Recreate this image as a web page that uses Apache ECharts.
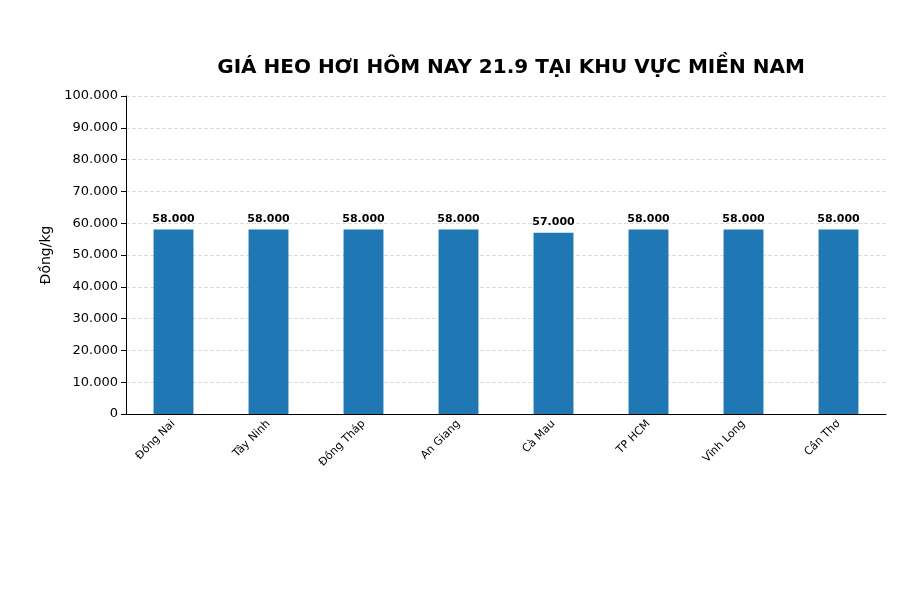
<!DOCTYPE html>
<html><head><meta charset="utf-8">
<script src="https://cdn.jsdelivr.net/npm/echarts@6/dist/echarts.min.js"></script>
<style>html,body{margin:0;padding:0;background:#fff}#c{width:900px;height:600px}</style>
</head><body><div id="c"></div>
<script>
const categories = ['Đồng Nai','Tây Ninh','Đồng Tháp','An Giang','Cà Mau','TP HCM','Vĩnh Long','Cần Thơ'];
const prices = [58000,58000,58000,58000,57000,58000,58000,58000];
const fmt = v => String(v).replace(/\B(?=(\d{3})+(?!\d))/g, '.');
const chart = echarts.init(document.getElementById('c'));
chart.setOption({
  animation:false,
  textStyle:{fontFamily:'DejaVu Sans'},
  title:{text:'GIÁ HEO HƠI HÔM NAY 21.9 TẠI KHU VỰC MIỀN NAM',left:506,top:53,textAlign:'center',
    textStyle:{fontSize:20,fontWeight:'bold',color:'#000',fontFamily:'DejaVu Sans'}},
  grid:{left:126,right:14,top:96,bottom:186},
  xAxis:{type:'category',data:categories,
    axisLine:{lineStyle:{color:'#000'}},axisTick:{alignWithLabel:true,lineStyle:{color:'#000'}},
    axisLabel:{rotate:45,color:'#000',fontSize:11,margin:8}},
  yAxis:{type:'value',min:0,max:100000,interval:10000,name:'Đồng/kg',nameLocation:'middle',nameGap:72,
    nameTextStyle:{fontSize:14,color:'#000'},
    axisLine:{show:true,lineStyle:{color:'#000'}},axisTick:{show:true,lineStyle:{color:'#000'}},
    axisLabel:{color:'#000',fontSize:13,formatter:fmt},
    splitLine:{lineStyle:{type:'dashed',color:'#ddd'}}},
  series:[{type:'bar',data:prices,barWidth:'42%',itemStyle:{color:'#1f77b4'},
    label:{show:true,position:'top',fontSize:11,fontWeight:'bold',color:'#000',formatter:p=>fmt(p.value)}}]
});
</script></body></html>
